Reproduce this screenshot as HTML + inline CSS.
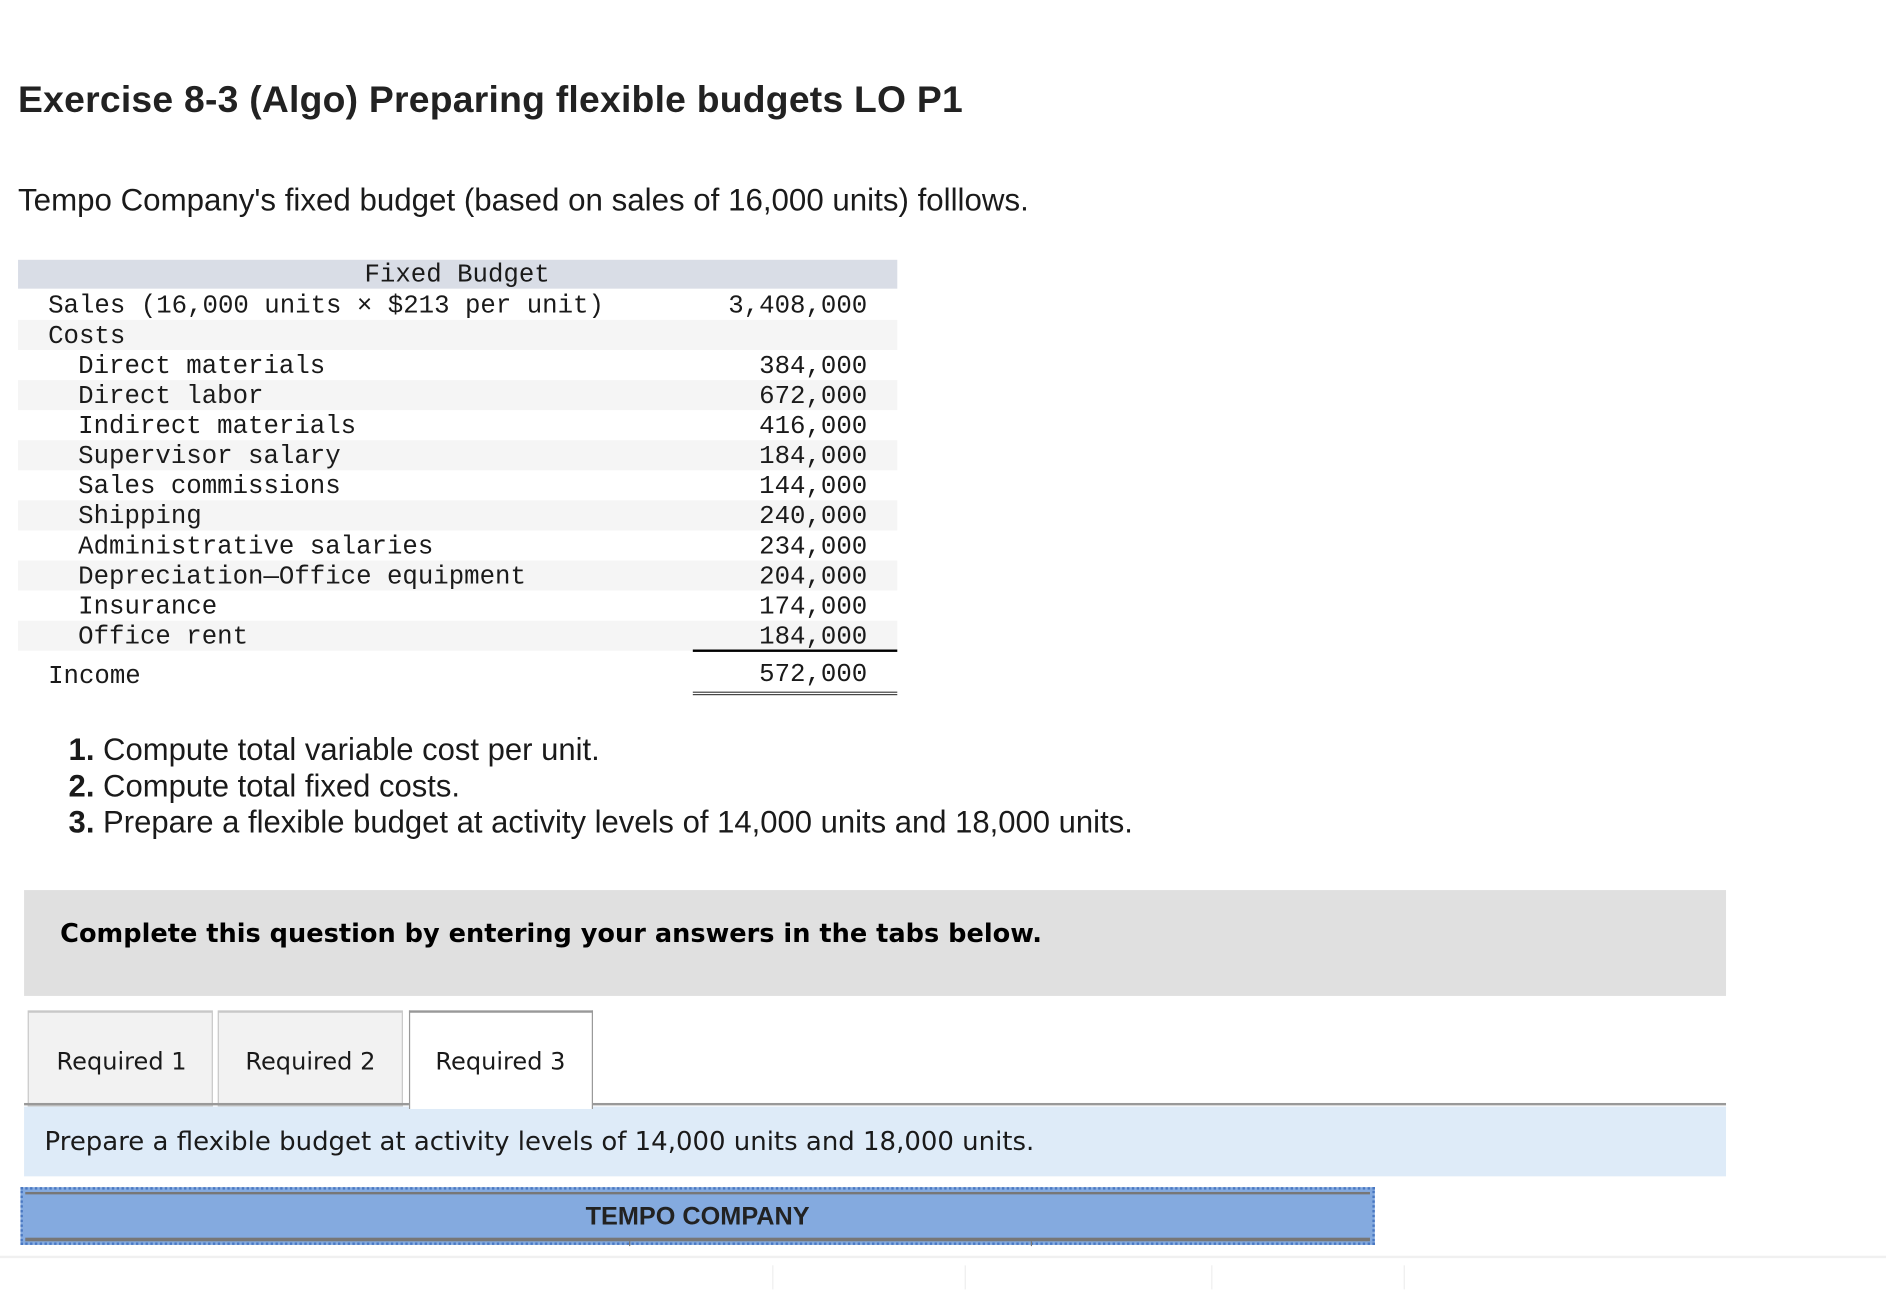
<!DOCTYPE html>
<html><head><meta charset="utf-8">
<style>
html,body{margin:0;padding:0;background:#fff;}
body{width:1886px;height:1290px;overflow:hidden;position:relative;}
#wrap{position:absolute;left:0;top:0;width:1568px;height:1072px;transform:scale(1.2028);transform-origin:0 0;color:#1a1a1a;}
.a{position:absolute;white-space:nowrap;}
.sans{font-family:"Liberation Sans",sans-serif;}
.mono{font-family:"Liberation Mono",monospace;font-size:21.4px;}
.dv{font-family:"DejaVu Sans","Liberation Sans",sans-serif;}
.row{position:absolute;left:15px;width:731px;height:25px;}
.lbl{position:absolute;top:2px;line-height:25px;}
.val{position:absolute;right:25px;top:2px;line-height:25px;}
</style></head><body>
<div id="wrap">
<div class="a sans" style="left:15px;top:65px;font-size:31px;font-weight:bold;color:#222;letter-spacing:0.2px;">Exercise 8-3 (Algo) Preparing flexible budgets LO P1</div>
<div class="a sans" style="left:15px;top:151px;font-size:26px;">Tempo Company's fixed budget (based on sales of 16,000 units) folllows.</div>

<div class="mono">
<div class="row" style="top:216px;height:24px;background:#d9dde6;"><div class="lbl" style="left:288px;top:1px;">Fixed Budget</div></div>
<div class="row" style="top:241px;"><div class="lbl" style="left:25px;">Sales (16,000 units × $213 per unit)</div><div class="val">3,408,000</div></div>
<div class="row" style="top:266px;background:#f5f5f5;"><div class="lbl" style="left:25px;">Costs</div></div>
<div class="row" style="top:291px;"><div class="lbl" style="left:50px;">Direct materials</div><div class="val">384,000</div></div>
<div class="row" style="top:316px;background:#f5f5f5;"><div class="lbl" style="left:50px;">Direct labor</div><div class="val">672,000</div></div>
<div class="row" style="top:341px;"><div class="lbl" style="left:50px;">Indirect materials</div><div class="val">416,000</div></div>
<div class="row" style="top:366px;background:#f5f5f5;"><div class="lbl" style="left:50px;">Supervisor salary</div><div class="val">184,000</div></div>
<div class="row" style="top:391px;"><div class="lbl" style="left:50px;">Sales commissions</div><div class="val">144,000</div></div>
<div class="row" style="top:416px;background:#f5f5f5;"><div class="lbl" style="left:50px;">Shipping</div><div class="val">240,000</div></div>
<div class="row" style="top:441px;"><div class="lbl" style="left:50px;">Administrative salaries</div><div class="val">234,000</div></div>
<div class="row" style="top:466px;background:#f5f5f5;"><div class="lbl" style="left:50px;">Depreciation—Office equipment</div><div class="val">204,000</div></div>
<div class="row" style="top:491px;"><div class="lbl" style="left:50px;">Insurance</div><div class="val">174,000</div></div>
<div class="row" style="top:516px;background:#f5f5f5;"><div class="lbl" style="left:50px;">Office rent</div><div class="val">184,000</div></div>
<div class="a" style="left:576px;top:540px;width:170px;height:2px;background:#000;"></div>
<div class="row" style="top:547px;"><div class="lbl" style="left:25px;top:4px;">Income</div><div class="val">572,000</div></div>
<div class="a" style="left:576px;top:575px;width:170px;height:1px;border-top:1px solid #444;border-bottom:1px solid #444;"></div>
</div>

<div class="a sans" style="left:57px;top:609px;font-size:25.8px;line-height:30px;">
<div><b>1.</b> Compute total variable cost per unit.</div>
<div><b>2.</b> Compute total fixed costs.</div>
<div><b>3.</b> Prepare a flexible budget at activity levels of 14,000 units and 18,000 units.</div>
</div>

<div class="a dv" style="left:20px;top:740px;width:1415px;height:88px;background:#e0e0e0;"><div class="a" style="left:30px;top:24px;font-size:21.3px;font-weight:bold;color:#000;">Complete this question by entering your answers in the tabs below.</div></div>

<div class="a dv" style="left:23px;top:840px;width:152px;height:77px;background:#f2f2f2;border:1px solid #c8c8c8;border-top:2px solid #c8c8c8;font-size:20px;"><div class="a" style="left:23px;top:28px;">Required 1</div></div>
<div class="a dv" style="left:181px;top:840px;width:152px;height:77px;background:#f2f2f2;border:1px solid #c8c8c8;border-top:2px solid #c8c8c8;font-size:20px;"><div class="a" style="left:22px;top:28px;">Required 2</div></div>
<div class="a dv" style="left:340px;top:840px;width:151px;height:80px;background:#fff;border:1px solid #999;border-top:2px solid #999;border-bottom:none;font-size:20px;z-index:2;"><div class="a" style="left:21px;top:28px;">Required 3</div></div>
<div class="a" style="left:20px;top:917px;width:1415px;height:2px;background:#999;"></div>

<div class="a dv" style="left:20px;top:920px;width:1415px;height:58px;background:#deebf8;"><div class="a" style="left:17px;top:17px;font-size:21.6px;">Prepare a flexible budget at activity levels of 14,000 units and 18,000 units.</div></div>

<div class="a" style="left:17px;top:987px;width:1122px;height:44px;border:2px dotted #4a78c2;background:#84aadf;">
<div class="a" style="left:2px;top:2px;width:1118px;height:2px;background:#777;"></div>
<div class="a sans" style="left:0;width:1122px;top:11px;text-align:center;font-size:21px;font-weight:bold;color:#222;">TEMPO COMPANY</div>
<div class="a" style="left:2px;top:40px;width:1118px;height:3px;background:#777;"></div>
<div class="a" style="left:504px;top:43px;width:1px;height:4px;background:#777;"></div>
<div class="a" style="left:838px;top:43px;width:1px;height:4px;background:#777;"></div>
</div>

<div class="a" style="left:0;top:1044px;width:1568px;height:2px;background:#f0f0f0;"></div>
<div class="a" style="left:642px;top:1052px;width:1px;height:20px;background:#eee;"></div>
<div class="a" style="left:802px;top:1052px;width:1px;height:20px;background:#eee;"></div>
<div class="a" style="left:1007px;top:1052px;width:1px;height:20px;background:#eee;"></div>
<div class="a" style="left:1167px;top:1052px;width:1px;height:20px;background:#eee;"></div>
</div>
</body></html>
